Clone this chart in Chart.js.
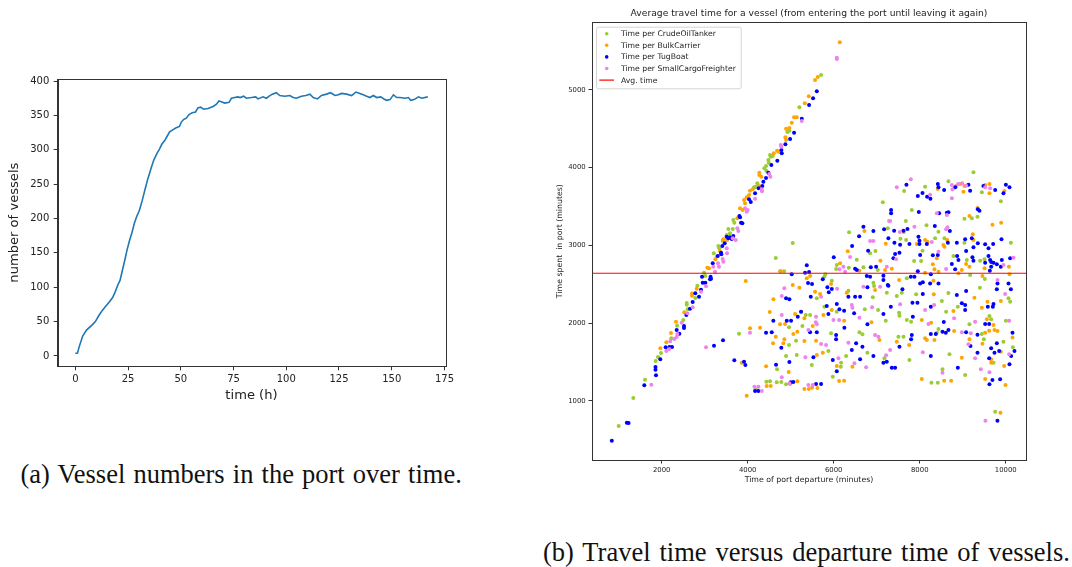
<!DOCTYPE html>
<html>
<head>
<meta charset="utf-8">
<script src="https://cdn.jsdelivr.net/npm/chart.js@4.4.1/dist/chart.umd.min.js"></script>
<style>
  html, body { margin: 0; padding: 0; background: #fff; }
  body { width: 1072px; height: 567px; position: relative; overflow: hidden; }
  canvas { position: absolute; }
  #left { left: 0; top: 60px; }
  #right { left: 540px; top: 0; }
  .caption { position: absolute; font-family: "Liberation Serif", "DejaVu Serif", serif; font-size: 26.5px; line-height: 26.5px; color: #111; white-space: nowrap; }
  #capA { left: 20.5px; top: 461px; word-spacing: 1.5px; }
  #capB { left: 543px; top: 539px; word-spacing: 2.3px; }
</style>
</head>
<body>
<canvas id="left" width="470" height="360"></canvas>
<canvas id="right" width="532" height="500"></canvas>
<div class="caption" id="capA">(a) Vessel numbers in the port over time.</div>
<div class="caption" id="capB">(b) Travel time versus departure time of vessels.</div>
<script>
// (a) number of vessels in the port over time
const hours = [0,1,1.9,3.5,5.4,7.9,9.5,11.4,12.7,14.3,16.2,17.7,19,20.1,21.2,22.5,23.8,24.5,25.7,26.9,
  28,29.1,30.4,31.7,33.1,34.4,36,37.2,38.6,39.9,41,42.3,43.4,44.7,46.2,47.8,49.4,50.2,51.3,52.6,
  53.8,55.4,57,58.1,59.4,60.8,62.9,65.3,66.8,68.1,69.2,70.8,72.9,74,75.5,77.1,78.2,79.8,81.1,83.5,
  85.5,86.6,89,90.6,91.9,93.4,95.3,96.9,99.3,101.7,103.3,104.8,107.2,109.3,111.2,112.8,114.8,116.7,119.1,121,
  123.1,124.7,126.2,128.6,131,133,134.9,136.5,138.1,139.7,141.3,142.9,144.8,146.3,147.6,149.2,150.8,152.4,153.9,156.3,
  157.9,159,160.6,162.7,164.2,167.1];
const vessels = [4,4,14,29,38,45,50,60,66,72,79,85,94,103,110,127,144,154,168,180,
  193,203,212,226,243,258,274,285,294,301,308,313,319,326,329,332,334,340,344,346,
  351,354,355,361,362,359,360,363,366,371,370,368,369,375,376,377,376,378,375,376,
  377,374,377,375,378,381,383,379,378,379,376,375,378,379,381,376,374,379,381,383,
  379,380,382,381,379,384,382,380,378,376,379,376,377,374,372,373,380,376,376,375,
  376,372,373,377,375,377];
const hourTicks = [0, 25, 50, 75, 100, 125, 150, 175];
const vesselTicks = [0, 50, 100, 150, 200, 250, 300, 350, 400];

// (b) time spent in port vs departure time, [departure, time in port] in minutes
const crudeOilTanker = [[1000,676],[1340,1035],[1612,1270],[1861,1511],[1914,1562],[1984,1614],[2224,1803],[2357,1965],
  [2503,2039],[2605,2176],[2582,2257],[2582,2236],[2782,2322],[2829,2480],[2984,2647],[3015,2605],[3210,2897],[3280,2853],
  [3317,2991],[3340,2961],[3419,3059],[3512,3133],[3512,3124],[3589,3154],[3550,3210],[3652,3210],[3666,3326],[3689,3291],
  [4147,3746],[4224,3798],[4187,3754],[4387,3991],[4433,3960],[4426,4020],[4480,4098],[4489,4063],[4520,4162],[4536,4141],
  [4582,4150],[4922,4458],[4969,4475],[5201,4776],[5706,5192],
  [3798,1862],[6357,3167],[7141,3553],[5047,3030],[6969,2927],[6846,2897],[4652,2837],[6536,2815],[6071,2746],[6055,2695],
  [4752,2665],[4845,2665],[6350,2712],[6690,2717],[7024,2682],[5806,2626],[5783,2596],[7257,3219],[5955,2544],[6341,2416],
  [6922,2519],[6938,2476],[7234,2390],[6908,2331],[5606,2318],[5783,2210],[6722,2176],[7031,2167],[6071,2146],[5350,2103],
  [5450,2103],[4961,1944],[5271,1961],[7210,2030],[4961,1717],[5124,1772],[5876,1640],[5938,1867],[6597,1880],[6667,1854],
  [6783,1618],[7178,1546],[4892,1575],[5140,1588],[5489,1459],[6171,1489],[6164,1438],[6287,1575],[4682,1404],[4520,1250],
  [4782,1241],[4985,1215],[5978,1309],[4187,1146],[4435,1245],[4675,1237],[4892,1211],[8271,1232],[9753,858],
  [9248,3940],[7636,3699],[8125,3754],[8667,3823],[9443,3682],[9885,3566],[7815,3454],[9039,3343],[9210,3347],[9342,3368],
  [7676,3313],[8157,3257],[8435,3175],[9039,3034],[10118,3034],[7551,3085],[7683,3068],[8357,3090],[8574,3090],[8064,2931],
  [8783,2862],[9094,2811],[9404,2802],[9506,2820],[7869,2798],[8032,2798],[9171,2618],[9513,2566],[7699,2575],[9397,2454],
  [10063,2318],[10102,2275],[8885,2210],[8613,2146],[8513,2283],[8667,2386],[7916,2369],[7466,2347],[7583,2390],[7520,2133],
  [7528,2094],[7699,2039],[7799,2017],[8435,1923],[8397,1875],[9620,2090],[9660,2047],[9443,1858],[9490,1790],[10002,2030],
  [9946,1760],[10164,1687],[9714,1489],[8528,1404],[9055,1331],[8420,1232],[7504,1824],[7621,1824],[7760,1524],[8691,1597],
  [9155,1983]];
const bulkCarrier = [[1968,1674],[2108,1751],[2217,1871],[2333,2017],[2526,2138],[2705,2380],[2705,2351],[2814,2442],
  [3061,2712],[3101,2704],[3247,2820],[3356,2923],[3433,3077],[3519,3068],[3759,3347],[3822,3476],[3884,3454],[3915,3583],
  [3938,3541],[4031,3647],[3977,3618],[4117,3721],[4054,3703],[4264,3763],[4303,3733],[4270,3934],[4270,3904],[4317,3883],
  [4606,4184],[4682,4217],[4722,4205],[4876,4390],[4892,4355],[4892,4501],[4969,4510],[5024,4578],[5140,4647],[5078,4647],
  [5327,4828],[5420,4918],[5566,5127],[5629,5166],[6140,5612],
  [6713,3184],[7210,3021],[6326,2923],[7085,2802],[6148,2768],[4769,2665],[6597,2673],[7194,2682],[5450,2605],[5373,2575],
  [3954,2540],[5201,2454],[5047,2489],[5938,2502],[6303,2390],[6962,2425],[5566,2403],[5683,2373],[4598,2305],[5955,2167],
  [5760,2103],[5240,2146],[5101,2116],[5318,2060],[4512,2142],[4869,1987],[4752,1983],[5512,1961],[6241,2030],[6876,2009],
  [4287,1940],[4054,1932],[4652,1824],[4590,1739],[4852,1790],[4829,1739],[5061,1858],[5154,1888],[5318,1768],[5589,1772],
  [5745,1618],[7062,1781],[5606,1588],[6071,1447],[6434,1438],[3861,1489],[4427,1443],[4954,1369],[4536,1189],[5154,1250],
  [5420,1151],[5620,1163],[6241,1257],[3977,1064],[4442,1189],[5318,1151],[5496,1167],[6125,1254],[8567,1257],[9993,1202],
  [9876,846],
  [8420,3725],[8846,3763],[8939,3789],[9039,3763],[9016,3690],[9520,3776],[9620,3789],[9620,3669],[9969,3699],[9155,3377],
  [9342,3480],[9690,3265],[9892,3291],[7629,3171],[9234,3141],[9248,3068],[7932,3017],[8125,3068],[8179,3047],[8551,3004],
  [8574,2982],[8637,3068],[8397,2833],[9506,2704],[10072,2725],[9078,2759],[9155,2725],[8978,2682],[8304,2755],[8342,2691],
  [8435,2660],[7350,2699],[8125,2647],[8899,2639],[9457,2605],[10086,2626],[7520,2553],[8318,2544],[9885,2283],[9271,2326],
  [9443,2197],[9574,2275],[8783,2154],[8327,2369],[8048,2039],[8264,2004],[8799,1897],[9155,1790],[9559,2047],[9714,1974],
  [9520,1875],[9613,1901],[9737,1910],[9807,1897],[9457,1734],[10156,1815],[9885,1631],[9660,1533],[9660,1489],[9962,1447],
  [8978,1554],[8048,1279],[8730,1257],[9520,1279],[7466,1760],[7753,1717],[8342,1781],[8164,1781],[8125,1803]];
const tugBoat = [[840,485],[1190,715],[1230,713],[1596,1198],[1868,1327],[1856,1434],[1856,1400],[1968,1533],[2093,1687],
  [2182,1691],[2240,1691],[2410,1862],[2349,1910],[2519,1961],[2519,1935],[2573,2103],[2659,2184],[2721,2270],[2782,2382],
  [2868,2339],[2914,2429],[2954,2519],[3015,2519],[3124,2562],[2938,2596],[3187,2768],[3136,2596],[3147,2570],[3303,2862],
  [3387,2884],[3380,2905],[3410,2991],[3466,3026],[3512,3111],[3589,3103],[3666,3120],[3550,3090],[3629,3081],[3806,3377],
  [3822,3360],[3845,3291],[3876,3283],[4031,3592],[4071,3557],[4171,3669],[4256,3733],[4364,3819],[4340,3763],[4426,3866],
  [4480,3934],[4550,4033],[4689,4089],[4783,4226],[4792,4184],[4876,4300],[4985,4368],[5078,4449],[5257,4630],[5427,4806],
  [5520,4892],[5606,4982],
  [3217,1708],[3426,1777],[3689,1520],[6690,3240],[6922,3184],[6590,3116],[7171,3206],[7271,3090],[6427,2991],[6799,2931],
  [6001,2846],[5373,2742],[5334,2647],[5427,2656],[5024,2626],[6497,2699],[6536,2682],[6862,2717],[6985,2725],[6769,2605],
  [6846,2596],[7155,2609],[7155,2553],[5745,2562],[5496,2502],[5403,2515],[5853,2459],[5955,2437],[5885,2395],[6783,2459],
  [7257,2489],[6341,2339],[6497,2339],[6613,2339],[5466,2339],[4892,2318],[4969,2305],[5838,2219],[6071,2245],[6132,2176],
  [6241,2159],[7155,2116],[6474,2125],[5876,2116],[5240,2146],[5164,2082],[4908,2030],[5008,2030],[4596,2030],[6248,1940],
  [6783,1983],[4427,1875],[4559,1880],[4782,1682],[5450,1880],[5606,1880],[6055,1845],[6055,1790],[6520,1739],[6667,1695],
  [6420,1652],[6922,1575],[7155,1489],[4969,1498],[5527,1558],[5978,1524],[6071,1378],[6613,1533],[3915,1502],[3946,1459],
  [4659,1464],[5061,1241],[5706,1215],[4248,1125],[4171,1125],[5000,1237],[5589,1215],[9620,1211],[9690,1266],[9806,743],
  [7690,3780],[8420,3789],[8435,3746],[8567,3712],[8823,3746],[9132,3780],[9171,3703],[9480,3763],[9753,3712],[9946,3669],
  [10002,3780],[10086,3746],[7955,3635],[8064,3673],[8171,3626],[8248,3600],[7334,3454],[7334,3412],[7978,3429],[8450,3412],
  [8630,3420],[8667,3425],[9350,3463],[9388,3446],[7404,3188],[7621,3188],[7714,3210],[8350,3248],[8700,3184],[9055,3077],
  [9210,3090],[9350,3026],[9520,3013],[9706,3017],[9598,2961],[9900,3077],[7411,3034],[7543,3008],[7760,3017],[7970,3111],
  [7993,3059],[7993,3017],[8164,3017],[8653,3034],[8862,3034],[9078,2927],[9248,2974],[7528,2905],[7427,2888],[8420,2875],
  [8304,2871],[8009,2875],[8869,2862],[8899,2811],[9225,2846],[9248,2802],[7388,2833],[9598,2862],[9636,2811],[9660,2785],
  [9660,2725],[9520,2776],[9714,2776],[9792,2755],[9908,2811],[10102,2833],[9885,2725],[9629,2673],[8746,2759],[8823,2691],
  [7955,2665],[8257,2626],[7792,2596],[7876,2596],[8009,2510],[8071,2523],[8241,2510],[8435,2510],[7271,2480],[7597,2433],
  [9807,2510],[9792,2433],[10063,2510],[10118,2433],[9078,2412],[9714,2245],[9699,2210],[8862,2360],[9582,2210],[8978,2253],
  [9055,2232],[9055,2167],[8257,2210],[7830,2262],[7946,2262],[8071,2373],[7327,2210],[7839,2082],[8559,2013],[8257,1858],
  [8373,1858],[8528,1888],[8606,1875],[8667,1910],[9078,1880],[9179,1704],[9342,1849],[9520,1987],[9613,1987],[10156,1875],
  [9792,1739],[9660,1674],[9737,1618],[9846,1640],[10202,1640],[10125,1575],[9613,1546],[9342,1618],[10086,1468],[8885,1425],
  [9869,1275],[7350,1425],[7427,1425],[7233,1502],[7528,1695],[7815,1845],[7799,1790],[8257,1575]];
const smallCargoFreighter = [[1759,1206],[2108,1640],[2177,1665],[2200,1765],[2294,1794],[2349,1820],[2364,1858],[2466,2004],
  [2596,2125],[2721,2202],[2914,2403],[3031,2472],[3201,2725],[3240,2661],[3310,2768],[3333,2725],[3419,2824],[3433,2789],
  [3512,2961],[3519,2897],[3652,3090],[3722,3068],[3759,3219],[3782,3184],[3938,3476],[3977,3433],[4000,3454],[4171,3600],
  [4326,3721],[4333,3695],[4503,3917],[4526,3883],[4769,4291],[4783,4269],[5257,4600],[6071,5414],[6071,5397],
  [3031,1687],[7287,3313],[6846,3055],[6922,3055],[6380,2849],[6225,2725],[6132,2691],[7234,2725],[6264,2660],[4852,2446],
  [6078,2441],[6690,2467],[7078,2467],[5706,2339],[4792,2347],[6420,2232],[6434,2197],[6892,2202],[4792,2103],[5589,2082],
  [5582,2009],[5606,1983],[5993,2039],[6125,2039],[6597,2068],[4054,1875],[5411,1910],[5706,1730],[5822,1717],[6341,1747],
  [6962,1845],[7039,1824],[7218,1584],[5341,1558],[6109,1546],[6481,1481],[6753,1430],[4792,1301],[5512,1202],[4248,1180],
  [4326,1125],[4156,1180],[4969,1224],[5411,1202],[9527,743],
  [7792,3850],[7466,3746],[8746,3776],[8760,3721],[8892,3789],[8985,3798],[9078,3767],[9520,3746],[9636,3733],[8241,3651],
  [8746,3605],[8397,3412],[8630,3390],[7311,3313],[7536,3171],[7876,3240],[8613,3206],[8644,3232],[8280,3043],[8435,2918],
  [7450,2820],[9946,2746],[10179,2841],[8613,2695],[9807,2553],[9985,2373],[8799,2060],[8334,2232],[8125,2167],[7543,2241],
  [8202,1987],[9287,2017],[10079,2030],[8978,1880],[9187,1867],[9132,1726],[10079,1597],[9287,1546],[8528,1360],[9420,1404],
  [9620,1365],[7311,1652],[8071,1623]];
const avgTime = 2640;
const departureTicks = [2000, 4000, 6000, 8000, 10000];
const portTimeTicks = [1000, 2000, 3000, 4000, 5000];

const AXIS = '#333';
const TEXT = '#222';

// full box around the plot area, like matplotlib spines
const frame = {
  id: 'frame',
  afterDraw(chart) {
    const { ctx, chartArea: a } = chart;
    ctx.save();
    ctx.strokeStyle = AXIS;
    ctx.lineWidth = 1;
    ctx.strokeRect(Math.round(a.left) + 0.5, Math.round(a.top) + 0.5,
      Math.round(a.right - a.left), Math.round(a.bottom - a.top));
    const t = chart.options.plugins.frame;
    if (t && t.title) {
      ctx.fillStyle = TEXT;
      ctx.font = '9.2px "DejaVu Sans"';
      ctx.textAlign = 'center';
      ctx.textBaseline = 'middle';
      ctx.fillText(t.title, (a.left + a.right) / 2, 14);
    }
    ctx.restore();
  }
};

const fixedScale = (size, vertical) => (s) => {
  if (vertical) s.width = size; else s.height = size;
};
const setTicks = (vals) => (s) => { s.ticks = vals.map(v => ({ value: v })); };
const plain = (v) => String(v);

// ---- left chart
new Chart(document.getElementById('left'), {
  type: 'line',
  data: {
    datasets: [{
      data: hours.map((h, i) => ({ x: h, y: vessels[i] })),
      borderColor: '#1f77b4',
      borderWidth: 1.6,
      pointRadius: 0,
      tension: 0,
      fill: false
    }]
  },
  options: {
    responsive: false,
    animation: false,
    devicePixelRatio: 1,
    layout: { padding: { top: 19, right: 24.7, left: 0, bottom: 0 } },
    plugins: { legend: { display: false }, tooltip: { enabled: false } },
    scales: {
      x: {
        type: 'linear', min: -8.35, max: 175.4,
        afterBuildTicks: setTicks(hourTicks),
        afterFit: fixedScale(53.7, false),
        grid: { drawOnChartArea: false, tickLength: 4, color: AXIS },
        border: { color: AXIS },
        ticks: { color: TEXT, font: { family: 'DejaVu Sans', size: 10 }, padding: 3, maxRotation: 0, callback: plain },
        title: { display: true, text: 'time (h)', color: TEXT, font: { family: 'DejaVu Sans', size: 13.1 }, padding: { bottom: 17 } }
      },
      y: {
        type: 'linear', min: -15, max: 403,
        afterBuildTicks: setTicks(vesselTicks),
        afterFit: fixedScale(57.7, true),
        grid: { drawOnChartArea: false, tickLength: 4, color: AXIS },
        border: { color: AXIS },
        ticks: { color: TEXT, font: { family: 'DejaVu Sans', size: 10 }, padding: 4.4, callback: plain },
        title: { display: true, text: 'number of vessels', color: TEXT, font: { family: 'DejaVu Sans', size: 13.1 }, padding: { top: 6.4 } }
      }
    }
  },
  plugins: [frame]
});

// ---- right chart
const xy = (pts) => pts.map(p => ({ x: p[0], y: p[1] }));
const X_MIN = 380, X_MAX = 10470;

const seriesStyle = (label, color, order, pts) => ({
  type: 'scatter', label, data: xy(pts), order,
  backgroundColor: color, borderColor: color, borderWidth: 0, pointRadius: 2
});

const legendBox = {
  id: 'legendBox',
  afterDatasetsDraw(chart) {
    const { ctx, chartArea: a } = chart;
    const x0 = a.left + 4, y0 = a.top + 4.4, w = 144.7, h = 61.6;
    ctx.save();
    ctx.fillStyle = 'rgba(255,255,255,0.85)';
    ctx.strokeStyle = '#d4d4d4';
    ctx.lineWidth = 1;
    ctx.beginPath();
    ctx.roundRect(x0 + 0.5, y0 + 0.5, w, h, 2);
    ctx.fill();
    ctx.stroke();
    const entries = [...chart.data.datasets].sort((p, q) => q.order - p.order);
    ctx.font = '7.7px "DejaVu Sans"';
    ctx.textBaseline = 'middle';
    ctx.textAlign = 'left';
    entries.forEach((ds, i) => {
      const y = y0 + 7 + i * 11.6;
      if (ds.type === 'line') {
        ctx.strokeStyle = ds.borderColor;
        ctx.lineWidth = 1.2;
        ctx.beginPath();
        ctx.moveTo(x0 + 3.3, y);
        ctx.lineTo(x0 + 18, y);
        ctx.stroke();
      } else {
        ctx.fillStyle = ds.backgroundColor;
        ctx.beginPath();
        ctx.arc(x0 + 10.7, y, 1.8, 0, Math.PI * 2);
        ctx.fill();
      }
      ctx.fillStyle = TEXT;
      ctx.fillText(ds.label, x0 + 25, y + 0.5);
    });
    ctx.restore();
  }
};

new Chart(document.getElementById('right'), {
  type: 'scatter',
  data: {
    datasets: [
      seriesStyle('Time per CrudeOilTanker', '#9acd32', 5, crudeOilTanker),
      seriesStyle('Time per BulkCarrier', '#ffa500', 4, bulkCarrier),
      seriesStyle('Time per TugBoat', '#0000ff', 3, tugBoat),
      seriesStyle('Time per SmallCargoFreighter', '#ee82ee', 2, smallCargoFreighter),
      {
        type: 'line', label: 'Avg. time', order: 1,
        data: [{ x: X_MIN, y: avgTime }, { x: X_MAX, y: avgTime }],
        borderColor: '#ff0000', borderWidth: 1.1, pointRadius: 0, fill: false
      }
    ]
  },
  options: {
    responsive: false,
    animation: false,
    devicePixelRatio: 1,
    layout: { padding: { top: 22.3, right: 46, left: 0, bottom: 0 } },
    plugins: {
      legend: { display: false },
      tooltip: { enabled: false },
      frame: { title: 'Average travel time for a vessel (from entering the port until leaving it again)' }
    },
    scales: {
      x: {
        type: 'linear', min: X_MIN, max: X_MAX,
        afterBuildTicks: setTicks(departureTicks),
        afterFit: fixedScale(40, false),
        grid: { drawOnChartArea: false, tickLength: 3.5, color: AXIS },
        border: { color: AXIS },
        ticks: { color: TEXT, font: { family: 'DejaVu Sans', size: 6.9 }, padding: 2.3, maxRotation: 0, callback: plain },
        title: { display: true, text: 'Time of port departure (minutes)', color: TEXT, font: { family: 'DejaVu Sans', size: 7.8 }, padding: { bottom: 15 } }
      },
      y: {
        type: 'linear', min: 237, max: 5870,
        afterBuildTicks: setTicks(portTimeTicks),
        afterFit: fixedScale(52, true),
        grid: { drawOnChartArea: false, tickLength: 3.5, color: AXIS },
        border: { color: AXIS },
        ticks: { color: TEXT, font: { family: 'DejaVu Sans', size: 6.9 }, padding: 2.8, callback: plain },
        title: { display: true, text: 'Time spent  in port (minutes)', color: TEXT, font: { family: 'DejaVu Sans', size: 7.8 }, padding: { top: 15 } }
      }
    }
  },
  plugins: [frame, legendBox]
});
</script>
</body>
</html>
